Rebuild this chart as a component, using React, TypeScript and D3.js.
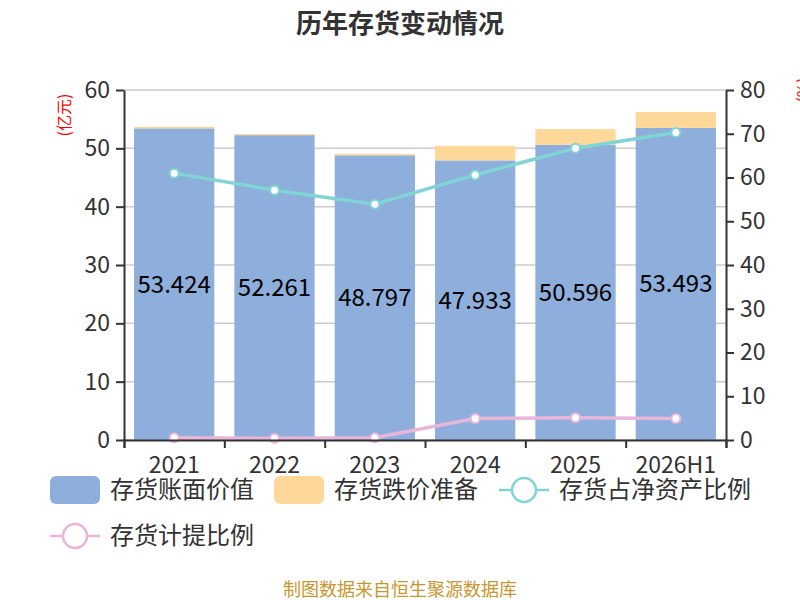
import React, { useEffect, useRef } from 'react';
import * as d3 from 'd3';

const years = ['2021', '2022', '2023', '2024', '2025', '2026H1'];
const bookValue = [53.424, 52.261, 48.797, 47.933, 50.596, 53.493];
const reserve = [0.27, 0.21, 0.25, 2.5, 2.7, 2.75];
const netAssetRatio = [61.0, 57.1, 53.9, 60.6, 66.7, 70.3];
const provisionRatio = [0.5, 0.4, 0.5, 4.9, 5.1, 4.9];
const leftTicks = [0, 10, 20, 30, 40, 50, 60];
const rightTicks = [0, 10, 20, 30, 40, 50, 60, 70, 80];

const FONT = '"Noto Sans CJK SC", "Noto Sans", sans-serif';
const BLUE = '#8eaedb';
const ORANGE = '#ffd899';
const TEAL = '#80d4d6';
const PINK = '#e8b6da';

const App: React.FC = () => {
  const svgRef = useRef<SVGSVGElement>(null);

  useEffect(() => {
    if (!svgRef.current) return;
    const svg = d3.select(svgRef.current);
    svg.selectAll('*').remove();

    const margin = { top: 90, right: 74, bottom: 160, left: 124 };
    const width = 800;
    const height = 600;
    const innerW = width - margin.left - margin.right;
    const innerH = height - margin.top - margin.bottom;

    const x = d3.scaleBand<string>().domain(years).range([0, innerW])
      .paddingInner(0.2).paddingOuter(0.1);
    const yL = d3.scaleLinear().domain([0, 60]).range([innerH, 0]);
    const yR = d3.scaleLinear().domain([0, 80]).range([innerH, 0]);

    // title
    svg.append('text')
      .attr('x', width / 2).attr('y', 33)
      .attr('text-anchor', 'middle')
      .attr('font-family', FONT).attr('font-size', 26).attr('font-weight', 'bold')
      .attr('fill', '#333')
      .text('历年存货变动情况');

    const g = svg.append('g').attr('transform', `translate(${margin.left},${margin.top})`);

    // gridlines
    g.selectAll('.grid').data(leftTicks).enter().append('line')
      .attr('x1', 0).attr('x2', innerW)
      .attr('y1', d => yL(d)).attr('y2', d => yL(d))
      .attr('stroke', '#cccccc').attr('stroke-width', 1.5);

    // bars
    years.forEach((yr, i) => {
      const bx = x(yr)!;
      g.append('rect')
        .attr('x', bx).attr('width', x.bandwidth())
        .attr('y', yL(bookValue[i])).attr('height', yL(0) - yL(bookValue[i]))
        .attr('fill', BLUE);
      g.append('rect')
        .attr('x', bx).attr('width', x.bandwidth())
        .attr('y', yL(bookValue[i] + reserve[i]))
        .attr('height', yL(bookValue[i]) - yL(bookValue[i] + reserve[i]))
        .attr('fill', ORANGE);
      g.append('text')
        .attr('x', bx + x.bandwidth() / 2)
        .attr('y', yL(bookValue[i] / 2))
        .attr('dy', '0.35em')
        .attr('text-anchor', 'middle')
        .attr('font-family', FONT).attr('font-size', 24)
        .attr('fill', '#000')
        .text(bookValue[i].toFixed(3));
    });

    // lines
    const drawLine = (vals: number[], color: string) => {
      const line = d3.line<number>()
        .x((_, i) => x(years[i])! + x.bandwidth() / 2)
        .y(d => yR(d));
      g.append('path').datum(vals)
        .attr('d', line)
        .attr('fill', 'none').attr('stroke', color).attr('stroke-width', 3.5);
      g.selectAll(null).data(vals).enter().append('circle')
        .attr('cx', (_, i) => x(years[i])! + x.bandwidth() / 2)
        .attr('cy', d => yR(d))
        .attr('r', 4.5)
        .attr('fill', '#fff').attr('stroke', color).attr('stroke-width', 2);
    };
    drawLine(netAssetRatio, TEAL);
    drawLine(provisionRatio, PINK);

    // axes
    const styleAxis = (sel: d3.Selection<SVGGElement, unknown, null, undefined>) => {
      sel.select('.domain').attr('stroke', '#333').attr('stroke-width', 2);
      sel.selectAll('.tick line').attr('stroke', '#333').attr('stroke-width', 2);
      sel.selectAll('.tick text')
        .attr('font-family', FONT).attr('font-size', 23).attr('fill', '#333');
    };

    const left = g.append('g')
      .call(d3.axisLeft(yL).tickValues(leftTicks).tickSize(8).tickSizeOuter(0).tickPadding(6));
    styleAxis(left);

    const right = g.append('g').attr('transform', `translate(${innerW},0)`)
      .call(d3.axisRight(yR).tickValues(rightTicks).tickSize(8).tickSizeOuter(0).tickPadding(6));
    styleAxis(right);

    const xAxisScale = d3.scaleLinear().domain([0, years.length]).range([0, innerW]);
    const bottom = g.append('g').attr('transform', `translate(0,${innerH})`)
      .call(d3.axisBottom(xAxisScale).tickValues(d3.range(years.length + 1)).tickSize(8).tickFormat(() => ''));
    styleAxis(bottom);
    bottom.selectAll('.tick text').remove();
    g.selectAll('.xlabel').data(years).enter().append('text')
      .attr('x', d => x(d)! + x.bandwidth() / 2)
      .attr('y', innerH + 33)
      .attr('text-anchor', 'middle')
      .attr('font-family', FONT).attr('font-size', 23).attr('fill', '#333')
      .text(d => d);

    // axis titles
    svg.append('text')
      .attr('transform', `translate(70,115) rotate(-90)`)
      .attr('text-anchor', 'middle')
      .attr('font-family', FONT).attr('font-size', 16).attr('fill', '#ff0000')
      .text('(亿元)');
    svg.append('text')
      .attr('transform', `translate(809,90) rotate(-90)`)
      .attr('text-anchor', 'middle')
      .attr('font-family', FONT).attr('font-size', 16).attr('fill', '#ff0000')
      .text('(%)');

    // legend
    const legend = svg.append('g').attr('font-family', FONT);
    const legendText = (tx: number, ty: number, label: string) => {
      legend.append('text')
        .attr('x', tx).attr('y', ty).attr('dy', '0.35em')
        .attr('font-size', 24).attr('fill', '#333')
        .text(label);
    };
    const rectItem = (lx: number, ly: number, color: string, label: string) => {
      legend.append('rect')
        .attr('x', lx).attr('y', ly - 14).attr('width', 50).attr('height', 28)
        .attr('rx', 6).attr('fill', color);
      legendText(lx + 60, ly, label);
    };
    const lineItem = (lx: number, ly: number, color: string, label: string) => {
      legend.append('line')
        .attr('x1', lx).attr('x2', lx + 50).attr('y1', ly).attr('y2', ly)
        .attr('stroke', color).attr('stroke-width', 2.5);
      legend.append('circle')
        .attr('cx', lx + 25).attr('cy', ly).attr('r', 12)
        .attr('fill', '#fff').attr('stroke', color).attr('stroke-width', 2.5);
      legendText(lx + 60, ly, label);
    };
    rectItem(50, 490, BLUE, '存货账面价值');
    rectItem(274, 490, ORANGE, '存货跌价准备');
    lineItem(499, 490, TEAL, '存货占净资产比例');
    lineItem(50, 536, PINK, '存货计提比例');

    // footer
    svg.append('text')
      .attr('x', width / 2).attr('y', 596)
      .attr('text-anchor', 'middle')
      .attr('font-family', FONT).attr('font-size', 18).attr('fill', '#c9962f')
      .text('制图数据来自恒生聚源数据库');
  }, []);

  return (
    <svg
      ref={svgRef}
      width={800}
      height={600}
      style={{ position: 'absolute', left: 0, top: 0, background: '#fff' }}
    />
  );
};

export default App;
